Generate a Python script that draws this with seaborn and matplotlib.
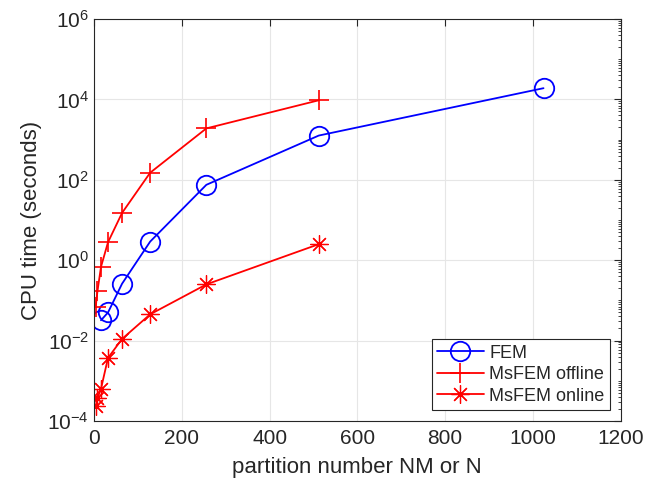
import numpy as np
import pandas as pd
import seaborn as sns
import matplotlib
matplotlib.use("Agg")
import matplotlib.pyplot as plt
from matplotlib.ticker import LogLocator, FixedLocator, NullFormatter

fem_x = [16, 32, 64, 128, 256, 512, 1024]
fem_y = [0.032, 0.05, 0.26, 2.9, 75, 1260, 19000]
off_x = [4, 8, 16, 32, 64, 128, 256, 512]
off_y = [0.07, 0.17, 0.68, 2.8, 15, 150, 1900, 9500]
on_x = [4, 8, 16, 32, 64, 128, 256, 512]
on_y = [2.3e-4, 3.7e-4, 6.3e-4, 3.7e-3, 0.011, 0.045, 0.25, 2.5]
labels = ["FEM", "MsFEM offline", "MsFEM online"]
xticks = [0, 200, 400, 600, 800, 1000, 1200]

sns.set_style("white")
plt.rcParams['font.family'] = ['Liberation Sans', 'DejaVu Sans']
plt.rcParams['axes.unicode_minus'] = False

fig = plt.figure(figsize=(6.48, 4.91), dpi=100)
ax = fig.add_axes([0.145, 0.1426, 0.813, 0.8187])

asterisk = (8, 2, 0)
sns.lineplot(x=fem_x, y=fem_y, ax=ax, color="#0000FF", marker="o", markersize=14,
             markerfacecolor="none", markeredgecolor="#0000FF", markeredgewidth=1.3,
             linewidth=1.3, label=labels[0])
sns.lineplot(x=off_x, y=off_y, ax=ax, color="#FF0000", marker="+", markersize=15,
             markeredgecolor="#FF0000", markeredgewidth=1.2, linewidth=1.3, label=labels[1])
sns.lineplot(x=on_x, y=on_y, ax=ax, color="#FF0000", marker=asterisk, markersize=13,
             markeredgecolor="#FF0000", markeredgewidth=0.9, linewidth=1.3, label=labels[2])

ax.set_yscale("log")
ax.set_xlim(0, 1200)
ax.set_ylim(1e-4, 1e6)
ax.xaxis.set_major_locator(FixedLocator(xticks))
ax.yaxis.set_major_locator(FixedLocator([1e-4, 1e-2, 1e0, 1e2, 1e4, 1e6]))
ax.yaxis.set_minor_locator(LogLocator(base=10, subs=np.arange(1, 10), numticks=100))
ax.yaxis.set_minor_formatter(NullFormatter())
ax.grid(True, which="major", color="#E6E6E6", linewidth=0.8)
ax.set_axisbelow(True)
for s in ax.spines.values():
    s.set_color("#262626")
    s.set_linewidth(0.8)
ax.tick_params(axis="both", which="both", direction="in", top=True, right=True,
               colors="#262626", labelcolor="#262626", labelsize=15)
ax.tick_params(which="major", length=5, width=0.8)
ax.tick_params(which="minor", length=2.5, width=0.6)
ax.tick_params(axis="x", pad=6)
ax.set_xlabel("partition number NM or N", fontsize=16, color="#262626", labelpad=6)
ax.set_ylabel("CPU time (seconds)", fontsize=16, color="#262626", labelpad=4)

leg = ax.legend(loc="lower right", fontsize=13, frameon=True, fancybox=False,
                edgecolor="#262626", framealpha=1, borderpad=0.3, labelspacing=0.25,
                handlelength=2.6, handletextpad=0.3, borderaxespad=0.6)
leg.get_frame().set_linewidth(0.8)

fig.savefig("out.png", dpi=100)
